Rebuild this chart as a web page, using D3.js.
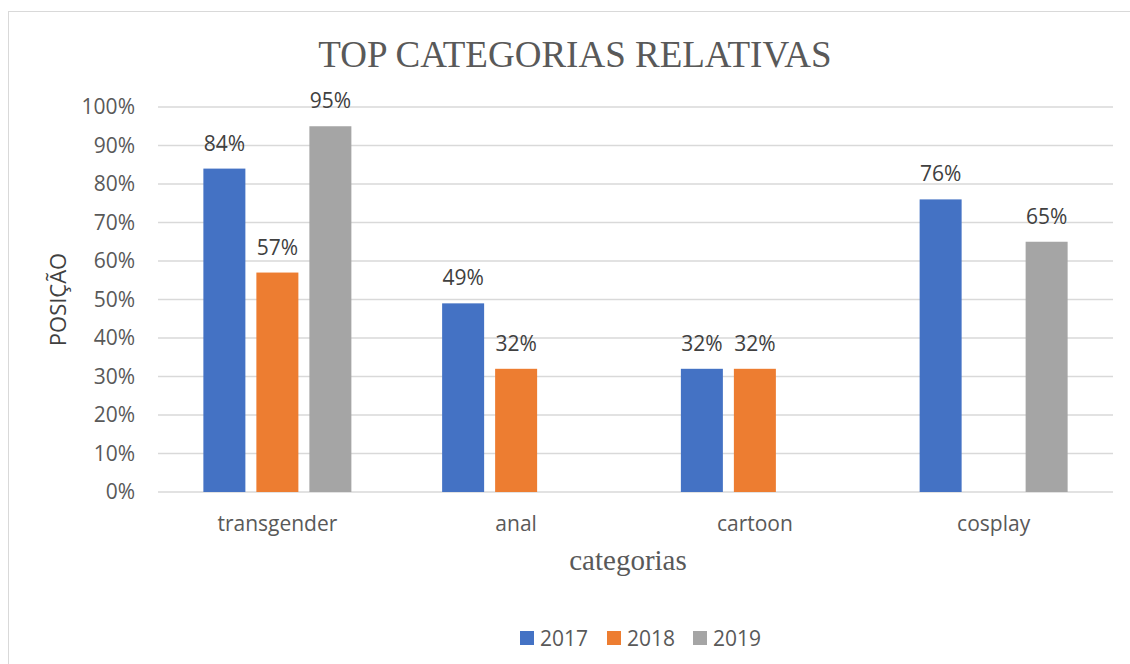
<!DOCTYPE html>
<html>
<head>
<meta charset="utf-8">
<script src="https://cdn.jsdelivr.net/npm/d3@7"></script>
<style>
  body { margin: 0; background: #fff; }
  text { font-family: "Open Sans", sans-serif; }
</style>
</head>
<body>
<svg id="graph" width="1130" height="664"></svg>
<script>
var categories = ["transgender", "anal", "cartoon", "cosplay"]
var series = ["2017", "2018", "2019"]
var values2017 = [84, 49, 32, 76]
var values2018 = [57, 32, 32, null]
var values2019 = [95, null, null, 65]
var yTicks = [0, 10, 20, 30, 40, 50, 60, 70, 80, 90, 100]
var colors = ["#4472c4", "#ed7d31", "#a5a5a5"]

var margin = { top: 107, right: 17, bottom: 172, left: 158 }
var W = 1130, H = 664
var width = W - margin.left - margin.right
var height = H - margin.top - margin.bottom

var svg = d3.select("#graph")

// chart border
svg.append("rect")
    .attr("x", 8.5).attr("y", 11.5)
    .attr("width", 1140).attr("height", 700)
    .attr("fill", "none")
    .attr("stroke", "#d9d9d9")

var g = svg.append("g")
    .attr("transform", "translate(" + margin.left + "," + margin.top + ")")

var x0 = d3.scaleBand()
    .domain(categories)
    .range([0, width])

var x1 = d3.scaleBand()
    .domain(series)
    .range([-79.5, 79.5])
    .paddingInner(11 / 53)
    .paddingOuter(11 / 106)

var y = d3.scaleLinear()
    .domain([0, 100])
    .range([height, 0])

// gridlines
g.selectAll(".grid")
    .data(yTicks)
    .enter().append("line")
    .attr("x1", 0).attr("x2", width)
    .attr("y1", d => y(d)).attr("y2", d => y(d))
    .attr("stroke", "#d9d9d9")
    .attr("stroke-width", 1.3)

// y axis labels
var yAxis = g.append("g")
    .call(d3.axisLeft(y).tickValues(yTicks).tickFormat(d => d + "%").tickSize(0).tickPadding(23))
yAxis.select(".domain").remove()
yAxis.selectAll("text")
    .attr("fill", "#595959")
    .style("font-size", "21px")
    .style("font-family", "'Open Sans', sans-serif")

// x axis labels
var xAxis = g.append("g")
    .attr("transform", "translate(0," + height + ")")
    .call(d3.axisBottom(x0).tickSize(0).tickPadding(24))
xAxis.select(".domain").remove()
xAxis.selectAll("text")
    .attr("fill", "#595959")
    .style("font-size", "21px")
    .style("font-family", "'Open Sans', sans-serif")

var rows = []
var allValues = [values2017, values2018, values2019]
categories.forEach((c, i) => {
    series.forEach((s, j) => {
        if (allValues[j][i] != null)
            rows.push({ cat: c, s: s, v: allValues[j][i], color: colors[j] })
    })
})

g.selectAll(".bar")
    .data(rows)
    .enter().append("rect")
    .attr("class", "bar")
    .attr("x", d => x0(d.cat) + x0.bandwidth() / 2 + x1(d.s))
    .attr("width", x1.bandwidth())
    .attr("y", d => y(d.v))
    .attr("height", d => y(0) - y(d.v))
    .attr("fill", d => d.color)

g.selectAll(".lbl")
    .data(rows)
    .enter().append("text")
    .attr("x", d => x0(d.cat) + x0.bandwidth() / 2 + x1(d.s) + x1.bandwidth() / 2)
    .attr("y", d => y(d.v) - 18)
    .attr("text-anchor", "middle")
    .attr("fill", "#404040")
    .style("font-size", "21px")
    .text(d => d.v + "%")

// title
svg.append("text")
    .attr("x", 575).attr("y", 67)
    .attr("text-anchor", "middle")
    .attr("fill", "#595959")
    .style("font-family", "'Liberation Serif', 'Times New Roman', serif")
    .style("font-size", "37px")
    .text("TOP CATEGORIAS RELATIVAS")

// y axis title
svg.append("text")
    .attr("transform", "translate(66," + (margin.top + height / 2) + ") rotate(-90)")
    .attr("text-anchor", "middle")
    .attr("fill", "#404040")
    .style("font-size", "22px")
    .text("POSIÇÃO")

// x axis title
svg.append("text")
    .attr("x", 628).attr("y", 570)
    .attr("text-anchor", "middle")
    .attr("fill", "#595959")
    .style("font-family", "'Liberation Serif', 'Times New Roman', serif")
    .style("font-size", "29px")
    .text("categorias")

// legend
var legend = svg.append("g").attr("transform", "translate(520,638)")
var lx = [0, 87, 173]
series.forEach((s, i) => {
    legend.append("rect")
        .attr("x", lx[i]).attr("y", -7)
        .attr("width", 14).attr("height", 14)
        .attr("fill", colors[i])
    legend.append("text")
        .attr("x", lx[i] + 20).attr("y", 8)
        .attr("fill", "#595959")
        .style("font-size", "21px")
        .text(s)
})
</script>
</body>
</html>
